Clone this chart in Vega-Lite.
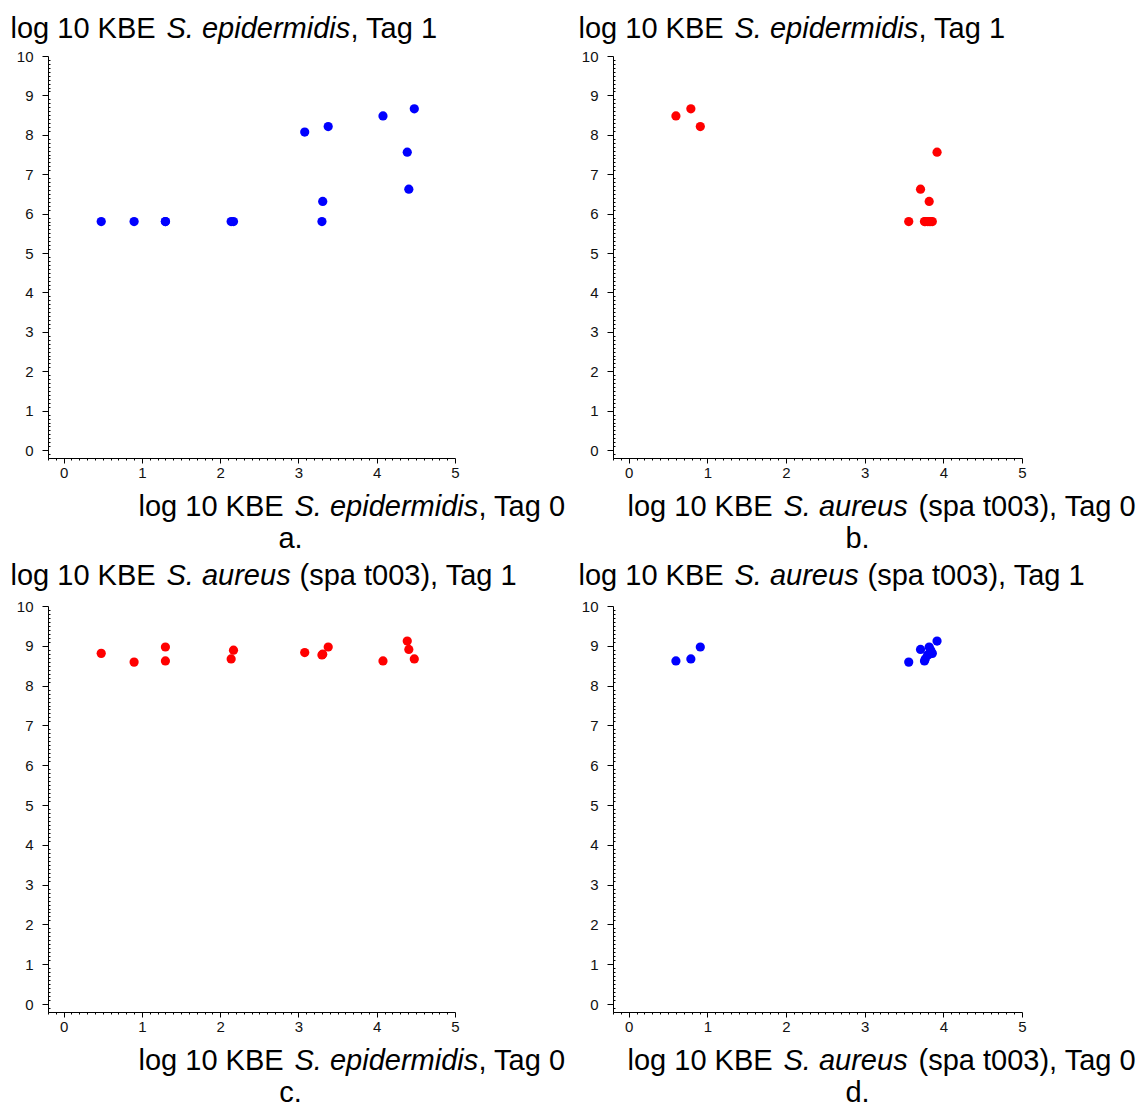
{
  "$schema": "https://vega.github.io/schema/vega-lite/v6.json",
  "padding": {"left": 10, "top": 14, "right": 0, "bottom": 0},
  "background": "white",
  "config": {
    "font": "Liberation Sans",
    "view": {"stroke": null},
    "axis": {
      "grid": false,
      "domainColor": "black",
      "tickColor": "black",
      "labelColor": "#111111",
      "titleColor": "black",
      "labelFont": "Liberation Sans",
      "titleFont": "Liberation Sans",
      "labelFontSize": 15,
      "titleFontSize": 29,
      "titleFontWeight": "normal",
      "domainWidth": 1,
      "tickWidth": 1
    },
    "title": {"font": "Liberation Sans", "fontSize": 29, "fontWeight": "normal", "color": "black"}
  },
  "datasets": {
    "subjects": [
      {"epi0": 0.48, "epi1": 5.80, "aur0": 3.86, "aur1": 8.81},
      {"epi0": 0.90, "epi1": 5.80, "aur0": 3.56, "aur1": 8.59},
      {"epi0": 1.30, "epi1": 5.80, "aur0": 3.82, "aur1": 8.97},
      {"epi0": 1.30, "epi1": 5.80, "aur0": 3.76, "aur1": 8.62},
      {"epi0": 2.14, "epi1": 5.80, "aur0": 3.77, "aur1": 8.67},
      {"epi0": 2.17, "epi1": 5.80, "aur0": 3.84, "aur1": 8.89},
      {"epi0": 3.08, "epi1": 8.07, "aur0": null, "aur1": 8.83},
      {"epi0": 3.30, "epi1": 5.80, "aur0": 3.80, "aur1": 8.77},
      {"epi0": 3.31, "epi1": 6.31, "aur0": 3.82, "aur1": 8.79},
      {"epi0": 3.38, "epi1": 8.21, "aur0": 0.91, "aur1": 8.97},
      {"epi0": 4.08, "epi1": 8.48, "aur0": 0.60, "aur1": 8.62},
      {"epi0": 4.39, "epi1": 7.56, "aur0": 3.92, "aur1": 9.12},
      {"epi0": 4.41, "epi1": 6.62, "aur0": 3.71, "aur1": 8.91},
      {"epi0": 4.48, "epi1": 8.66, "aur0": 0.79, "aur1": 8.67}
    ]
  },
  "concat": [
    {
      "width": 407, "height": 402,
      "data": {"name": "subjects"},
      "title": {"text": "a.", "orient": "bottom", "anchor": "middle", "dx": 39, "offset": 4},
      "resolve": {"axis": {"x": "independent", "y": "independent"}},
      "layer": [
        {
          "mark": {"type": "point", "filled": true, "size": 85, "color": "#0000ff", "opacity": 1},
          "encoding": {
            "x": {"field": "epi0", "type": "quantitative", "scale": {"domain": [-0.2, 5], "nice": false, "zero": false},
              "axis": {"orient": "bottom", "values": [-0.2,-0.1,0,0.1,0.2,0.3,0.4,0.5,0.6,0.7,0.8,0.9,1,1.1,1.2,1.3,1.4,1.5,1.6,1.7,1.8,1.9,2,2.1,2.2,2.3,2.4,2.5,2.6,2.7,2.8,2.9,3,3.1,3.2,3.3,3.4,3.5,3.6,3.7,3.8,3.9,4,4.1,4.2,4.3,4.4,4.5,4.6,4.7,4.8,4.9,5],
                "tickSize": {"condition": {"test": "datum.value % 1 === 0", "value": 5}, "value": 2}, "labelExpr": "datum.value % 1 === 0 ? format(datum.value, 'd') : ''", "labelOverlap": false, "labelFlush": false, "labelPadding": 2,
                "title": "log 10 KBE", "titleX": 90, "titleY": 57, "titleAlign": "left", "titleBaseline": "alphabetic", "titleAngle": 0}},
            "y": {"field": "epi1", "type": "quantitative", "scale": {"domain": [-0.2, 10], "nice": false, "zero": false},
              "axis": {"orient": "left", "values": [-0.2,-0.1,0,0.1,0.2,0.3,0.4,0.5,0.6,0.7,0.8,0.9,1,1.1,1.2,1.3,1.4,1.5,1.6,1.7,1.8,1.9,2,2.1,2.2,2.3,2.4,2.5,2.6,2.7,2.8,2.9,3,3.1,3.2,3.3,3.4,3.5,3.6,3.7,3.8,3.9,4,4.1,4.2,4.3,4.4,4.5,4.6,4.7,4.8,4.9,5,5.1,5.2,5.3,5.4,5.5,5.6,5.7,5.8,5.9,6,6.1,6.2,6.3,6.4,6.5,6.6,6.7,6.8,6.9,7,7.1,7.2,7.3,7.4,7.5,7.6,7.7,7.8,7.9,8,8.1,8.2,8.3,8.4,8.5,8.6,8.7,8.8,8.9,9,9.1,9.2,9.3,9.4,9.5,9.6,9.7,9.8,9.9,10],
                "tickSize": {"condition": {"test": "datum.value % 1 === 0", "value": 6}, "value": -2}, "labelExpr": "datum.value % 1 === 0 ? format(datum.value, 'd') : ''", "labelOverlap": false, "labelFlush": false, "labelPadding": 9,
                "title": "log 10 KBE", "titleX": -38, "titleY": -18.5, "titleAlign": "left", "titleBaseline": "alphabetic", "titleAngle": 0}}
          }
        },
        {
          "transform": [{"filter": "false"}],
          "mark": {"type": "point"},
          "encoding": {
            "x": {"field": "epi0", "type": "quantitative", "scale": {"domain": [-0.2, 5], "nice": false, "zero": false},
              "axis": {"orient": "bottom", "domain": false, "ticks": false, "labels": false, "title": "S. epidermidis", "titleFontStyle": "italic", "titleX": 246, "titleY": 57, "titleAlign": "left", "titleBaseline": "alphabetic", "titleAngle": 0}},
            "y": {"field": "epi1", "type": "quantitative", "scale": {"domain": [-0.2, 10], "nice": false, "zero": false},
              "axis": {"orient": "left", "domain": false, "ticks": false, "labels": false, "title": "S. epidermidis", "titleFontStyle": "italic", "titleX": 118, "titleY": -18.5, "titleAlign": "left", "titleBaseline": "alphabetic", "titleAngle": 0}}
          }
        },
        {
          "transform": [{"filter": "false"}],
          "mark": {"type": "point"},
          "encoding": {
            "x": {"field": "epi0", "type": "quantitative", "scale": {"domain": [-0.2, 5], "nice": false, "zero": false},
              "axis": {"orient": "bottom", "domain": false, "ticks": false, "labels": false, "title": ", Tag 0", "titleX": 430, "titleY": 57, "titleAlign": "left", "titleBaseline": "alphabetic", "titleAngle": 0}},
            "y": {"field": "epi1", "type": "quantitative", "scale": {"domain": [-0.2, 10], "nice": false, "zero": false},
              "axis": {"orient": "left", "domain": false, "ticks": false, "labels": false, "title": ", Tag 1", "titleX": 302, "titleY": -18.5, "titleAlign": "left", "titleBaseline": "alphabetic", "titleAngle": 0}}
          }
        }
      ]
    },
    {
      "width": 409, "height": 402,
      "data": {"name": "subjects"},
      "title": {"text": "b.", "orient": "bottom", "anchor": "middle", "dx": 40, "offset": 4},
      "resolve": {"axis": {"x": "independent", "y": "independent"}},
      "layer": [
        {
          "mark": {"type": "point", "filled": true, "size": 85, "color": "#ff0000", "opacity": 1},
          "encoding": {
            "x": {"field": "aur0", "type": "quantitative", "scale": {"domain": [-0.2, 5], "nice": false, "zero": false},
              "axis": {"orient": "bottom", "values": [-0.2,-0.1,0,0.1,0.2,0.3,0.4,0.5,0.6,0.7,0.8,0.9,1,1.1,1.2,1.3,1.4,1.5,1.6,1.7,1.8,1.9,2,2.1,2.2,2.3,2.4,2.5,2.6,2.7,2.8,2.9,3,3.1,3.2,3.3,3.4,3.5,3.6,3.7,3.8,3.9,4,4.1,4.2,4.3,4.4,4.5,4.6,4.7,4.8,4.9,5],
                "tickSize": {"condition": {"test": "datum.value % 1 === 0", "value": 5}, "value": 2}, "labelExpr": "datum.value % 1 === 0 ? format(datum.value, 'd') : ''", "labelOverlap": false, "labelFlush": false, "labelPadding": 2,
                "title": "log 10 KBE", "titleX": 14, "titleY": 57, "titleAlign": "left", "titleBaseline": "alphabetic", "titleAngle": 0}},
            "y": {"field": "epi1", "type": "quantitative", "scale": {"domain": [-0.2, 10], "nice": false, "zero": false},
              "axis": {"orient": "left", "values": [-0.2,-0.1,0,0.1,0.2,0.3,0.4,0.5,0.6,0.7,0.8,0.9,1,1.1,1.2,1.3,1.4,1.5,1.6,1.7,1.8,1.9,2,2.1,2.2,2.3,2.4,2.5,2.6,2.7,2.8,2.9,3,3.1,3.2,3.3,3.4,3.5,3.6,3.7,3.8,3.9,4,4.1,4.2,4.3,4.4,4.5,4.6,4.7,4.8,4.9,5,5.1,5.2,5.3,5.4,5.5,5.6,5.7,5.8,5.9,6,6.1,6.2,6.3,6.4,6.5,6.6,6.7,6.8,6.9,7,7.1,7.2,7.3,7.4,7.5,7.6,7.7,7.8,7.9,8,8.1,8.2,8.3,8.4,8.5,8.6,8.7,8.8,8.9,9,9.1,9.2,9.3,9.4,9.5,9.6,9.7,9.8,9.9,10],
                "tickSize": {"condition": {"test": "datum.value % 1 === 0", "value": 6}, "value": -2}, "labelExpr": "datum.value % 1 === 0 ? format(datum.value, 'd') : ''", "labelOverlap": false, "labelFlush": false, "labelPadding": 9,
                "title": "log 10 KBE", "titleX": -35, "titleY": -18.5, "titleAlign": "left", "titleBaseline": "alphabetic", "titleAngle": 0}}
          }
        },
        {
          "transform": [{"filter": "false"}],
          "mark": {"type": "point"},
          "encoding": {
            "x": {"field": "aur0", "type": "quantitative", "scale": {"domain": [-0.2, 5], "nice": false, "zero": false},
              "axis": {"orient": "bottom", "domain": false, "ticks": false, "labels": false, "title": "S. aureus", "titleFontStyle": "italic", "titleX": 170, "titleY": 57, "titleAlign": "left", "titleBaseline": "alphabetic", "titleAngle": 0}},
            "y": {"field": "epi1", "type": "quantitative", "scale": {"domain": [-0.2, 10], "nice": false, "zero": false},
              "axis": {"orient": "left", "domain": false, "ticks": false, "labels": false, "title": "S. epidermidis", "titleFontStyle": "italic", "titleX": 121, "titleY": -18.5, "titleAlign": "left", "titleBaseline": "alphabetic", "titleAngle": 0}}
          }
        },
        {
          "transform": [{"filter": "false"}],
          "mark": {"type": "point"},
          "encoding": {
            "x": {"field": "aur0", "type": "quantitative", "scale": {"domain": [-0.2, 5], "nice": false, "zero": false},
              "axis": {"orient": "bottom", "domain": false, "ticks": false, "labels": false, "title": "(spa t003), Tag 0", "titleX": 305, "titleY": 57, "titleAlign": "left", "titleBaseline": "alphabetic", "titleAngle": 0}},
            "y": {"field": "epi1", "type": "quantitative", "scale": {"domain": [-0.2, 10], "nice": false, "zero": false},
              "axis": {"orient": "left", "domain": false, "ticks": false, "labels": false, "title": ", Tag 1", "titleX": 305, "titleY": -18.5, "titleAlign": "left", "titleBaseline": "alphabetic", "titleAngle": 0}}
          }
        }
      ]
    },
    {
      "width": 407, "height": 406,
      "data": {"name": "subjects"},
      "title": {"text": "c.", "orient": "bottom", "anchor": "middle", "dx": 39, "offset": 4},
      "resolve": {"axis": {"x": "independent", "y": "independent"}},
      "layer": [
        {
          "mark": {"type": "point", "filled": true, "size": 85, "color": "#ff0000", "opacity": 1},
          "encoding": {
            "x": {"field": "epi0", "type": "quantitative", "scale": {"domain": [-0.2, 5], "nice": false, "zero": false},
              "axis": {"orient": "bottom", "values": [-0.2,-0.1,0,0.1,0.2,0.3,0.4,0.5,0.6,0.7,0.8,0.9,1,1.1,1.2,1.3,1.4,1.5,1.6,1.7,1.8,1.9,2,2.1,2.2,2.3,2.4,2.5,2.6,2.7,2.8,2.9,3,3.1,3.2,3.3,3.4,3.5,3.6,3.7,3.8,3.9,4,4.1,4.2,4.3,4.4,4.5,4.6,4.7,4.8,4.9,5],
                "tickSize": {"condition": {"test": "datum.value % 1 === 0", "value": 5}, "value": 2}, "labelExpr": "datum.value % 1 === 0 ? format(datum.value, 'd') : ''", "labelOverlap": false, "labelFlush": false, "labelPadding": 2,
                "title": "log 10 KBE", "titleX": 90, "titleY": 57, "titleAlign": "left", "titleBaseline": "alphabetic", "titleAngle": 0}},
            "y": {"field": "aur1", "type": "quantitative", "scale": {"domain": [-0.2, 10], "nice": false, "zero": false},
              "axis": {"orient": "left", "values": [-0.2,-0.1,0,0.1,0.2,0.3,0.4,0.5,0.6,0.7,0.8,0.9,1,1.1,1.2,1.3,1.4,1.5,1.6,1.7,1.8,1.9,2,2.1,2.2,2.3,2.4,2.5,2.6,2.7,2.8,2.9,3,3.1,3.2,3.3,3.4,3.5,3.6,3.7,3.8,3.9,4,4.1,4.2,4.3,4.4,4.5,4.6,4.7,4.8,4.9,5,5.1,5.2,5.3,5.4,5.5,5.6,5.7,5.8,5.9,6,6.1,6.2,6.3,6.4,6.5,6.6,6.7,6.8,6.9,7,7.1,7.2,7.3,7.4,7.5,7.6,7.7,7.8,7.9,8,8.1,8.2,8.3,8.4,8.5,8.6,8.7,8.8,8.9,9,9.1,9.2,9.3,9.4,9.5,9.6,9.7,9.8,9.9,10],
                "tickSize": {"condition": {"test": "datum.value % 1 === 0", "value": 6}, "value": -2}, "labelExpr": "datum.value % 1 === 0 ? format(datum.value, 'd') : ''", "labelOverlap": false, "labelFlush": false, "labelPadding": 9,
                "title": "log 10 KBE", "titleX": -38, "titleY": -22, "titleAlign": "left", "titleBaseline": "alphabetic", "titleAngle": 0}}
          }
        },
        {
          "transform": [{"filter": "false"}],
          "mark": {"type": "point"},
          "encoding": {
            "x": {"field": "epi0", "type": "quantitative", "scale": {"domain": [-0.2, 5], "nice": false, "zero": false},
              "axis": {"orient": "bottom", "domain": false, "ticks": false, "labels": false, "title": "S. epidermidis", "titleFontStyle": "italic", "titleX": 246, "titleY": 57, "titleAlign": "left", "titleBaseline": "alphabetic", "titleAngle": 0}},
            "y": {"field": "aur1", "type": "quantitative", "scale": {"domain": [-0.2, 10], "nice": false, "zero": false},
              "axis": {"orient": "left", "domain": false, "ticks": false, "labels": false, "title": "S. aureus", "titleFontStyle": "italic", "titleX": 118, "titleY": -22, "titleAlign": "left", "titleBaseline": "alphabetic", "titleAngle": 0}}
          }
        },
        {
          "transform": [{"filter": "false"}],
          "mark": {"type": "point"},
          "encoding": {
            "x": {"field": "epi0", "type": "quantitative", "scale": {"domain": [-0.2, 5], "nice": false, "zero": false},
              "axis": {"orient": "bottom", "domain": false, "ticks": false, "labels": false, "title": ", Tag 0", "titleX": 430, "titleY": 57, "titleAlign": "left", "titleBaseline": "alphabetic", "titleAngle": 0}},
            "y": {"field": "aur1", "type": "quantitative", "scale": {"domain": [-0.2, 10], "nice": false, "zero": false},
              "axis": {"orient": "left", "domain": false, "ticks": false, "labels": false, "title": "(spa t003), Tag 1", "titleX": 251, "titleY": -22, "titleAlign": "left", "titleBaseline": "alphabetic", "titleAngle": 0}}
          }
        }
      ]
    },
    {
      "width": 409, "height": 406,
      "data": {"name": "subjects"},
      "title": {"text": "d.", "orient": "bottom", "anchor": "middle", "dx": 40, "offset": 4},
      "resolve": {"axis": {"x": "independent", "y": "independent"}},
      "layer": [
        {
          "mark": {"type": "point", "filled": true, "size": 85, "color": "#0000ff", "opacity": 1},
          "encoding": {
            "x": {"field": "aur0", "type": "quantitative", "scale": {"domain": [-0.2, 5], "nice": false, "zero": false},
              "axis": {"orient": "bottom", "values": [-0.2,-0.1,0,0.1,0.2,0.3,0.4,0.5,0.6,0.7,0.8,0.9,1,1.1,1.2,1.3,1.4,1.5,1.6,1.7,1.8,1.9,2,2.1,2.2,2.3,2.4,2.5,2.6,2.7,2.8,2.9,3,3.1,3.2,3.3,3.4,3.5,3.6,3.7,3.8,3.9,4,4.1,4.2,4.3,4.4,4.5,4.6,4.7,4.8,4.9,5],
                "tickSize": {"condition": {"test": "datum.value % 1 === 0", "value": 5}, "value": 2}, "labelExpr": "datum.value % 1 === 0 ? format(datum.value, 'd') : ''", "labelOverlap": false, "labelFlush": false, "labelPadding": 2,
                "title": "log 10 KBE", "titleX": 14, "titleY": 57, "titleAlign": "left", "titleBaseline": "alphabetic", "titleAngle": 0}},
            "y": {"field": "aur1", "type": "quantitative", "scale": {"domain": [-0.2, 10], "nice": false, "zero": false},
              "axis": {"orient": "left", "values": [-0.2,-0.1,0,0.1,0.2,0.3,0.4,0.5,0.6,0.7,0.8,0.9,1,1.1,1.2,1.3,1.4,1.5,1.6,1.7,1.8,1.9,2,2.1,2.2,2.3,2.4,2.5,2.6,2.7,2.8,2.9,3,3.1,3.2,3.3,3.4,3.5,3.6,3.7,3.8,3.9,4,4.1,4.2,4.3,4.4,4.5,4.6,4.7,4.8,4.9,5,5.1,5.2,5.3,5.4,5.5,5.6,5.7,5.8,5.9,6,6.1,6.2,6.3,6.4,6.5,6.6,6.7,6.8,6.9,7,7.1,7.2,7.3,7.4,7.5,7.6,7.7,7.8,7.9,8,8.1,8.2,8.3,8.4,8.5,8.6,8.7,8.8,8.9,9,9.1,9.2,9.3,9.4,9.5,9.6,9.7,9.8,9.9,10],
                "tickSize": {"condition": {"test": "datum.value % 1 === 0", "value": 6}, "value": -2}, "labelExpr": "datum.value % 1 === 0 ? format(datum.value, 'd') : ''", "labelOverlap": false, "labelFlush": false, "labelPadding": 9,
                "title": "log 10 KBE", "titleX": -35, "titleY": -22, "titleAlign": "left", "titleBaseline": "alphabetic", "titleAngle": 0}}
          }
        },
        {
          "transform": [{"filter": "false"}],
          "mark": {"type": "point"},
          "encoding": {
            "x": {"field": "aur0", "type": "quantitative", "scale": {"domain": [-0.2, 5], "nice": false, "zero": false},
              "axis": {"orient": "bottom", "domain": false, "ticks": false, "labels": false, "title": "S. aureus", "titleFontStyle": "italic", "titleX": 170, "titleY": 57, "titleAlign": "left", "titleBaseline": "alphabetic", "titleAngle": 0}},
            "y": {"field": "aur1", "type": "quantitative", "scale": {"domain": [-0.2, 10], "nice": false, "zero": false},
              "axis": {"orient": "left", "domain": false, "ticks": false, "labels": false, "title": "S. aureus", "titleFontStyle": "italic", "titleX": 121, "titleY": -22, "titleAlign": "left", "titleBaseline": "alphabetic", "titleAngle": 0}}
          }
        },
        {
          "transform": [{"filter": "false"}],
          "mark": {"type": "point"},
          "encoding": {
            "x": {"field": "aur0", "type": "quantitative", "scale": {"domain": [-0.2, 5], "nice": false, "zero": false},
              "axis": {"orient": "bottom", "domain": false, "ticks": false, "labels": false, "title": "(spa t003), Tag 0", "titleX": 305, "titleY": 57, "titleAlign": "left", "titleBaseline": "alphabetic", "titleAngle": 0}},
            "y": {"field": "aur1", "type": "quantitative", "scale": {"domain": [-0.2, 10], "nice": false, "zero": false},
              "axis": {"orient": "left", "domain": false, "ticks": false, "labels": false, "title": "(spa t003), Tag 1", "titleX": 254, "titleY": -22, "titleAlign": "left", "titleBaseline": "alphabetic", "titleAngle": 0}}
          }
        }
      ]
    }
  ],
  "columns": 2,
  "spacing": {"row": 148, "column": 158},
  "bounds": "flush"
}
